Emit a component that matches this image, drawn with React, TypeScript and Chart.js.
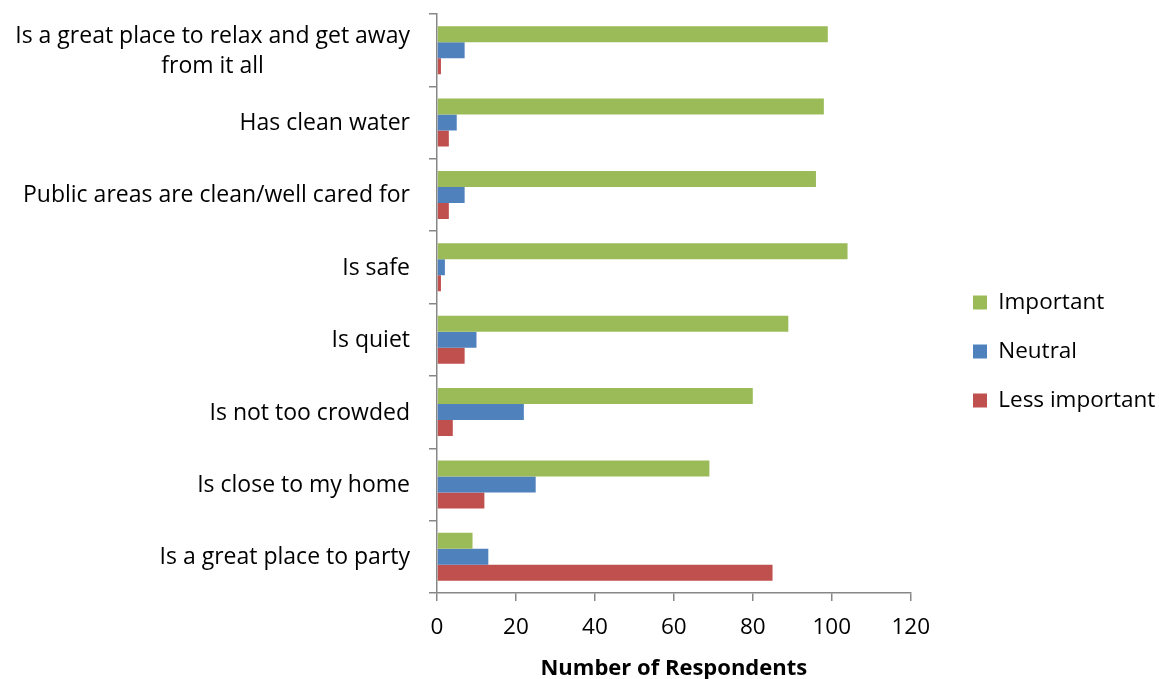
import React, { useEffect, useRef } from 'react';
import { Chart, registerables } from 'chart.js';

Chart.register(...registerables);

// Survey statements, top to bottom
const categories: (string | string[])[] = [
  ['Is a great place to relax and get away', 'from it all'],
  'Has clean water',
  'Public areas are clean/well cared for',
  'Is safe',
  'Is quiet',
  'Is not too crowded',
  'Is close to my home',
  'Is a great place to party',
];

const important = [99, 98, 96, 104, 89, 80, 69, 9];
const neutral = [7, 5, 7, 2, 10, 22, 25, 13];
const lessImportant = [1, 3, 3, 1, 7, 4, 12, 85];

const xMin = 0;
const xMax = 120;
const xStep = 20;

const FONT = '"Open Sans", "Noto Sans", sans-serif';
const AXIS_COLOR = '#878787';
const W = 1159;
const H = 679;
const PLOT_LEFT = 437;
const PLOT_RIGHT = 910.7;
const PLOT_TOP = 14;
const PLOT_BOTTOM = 593;
const LEGEND_X = 973;
const LEGEND_PAD = 26.5;
const LEGEND_FONT_SIZE = 22.5;
const TICK_FONT_SIZE = 22.5;
const LABEL_FONT_SIZE = 23;
const LABEL_LINE_H = 30;
const LABEL_GAP = 27;

// Category labels: block right-aligned against the axis, lines centred within the block
const categoryLabels = {
  id: 'categoryLabels',
  afterDraw(chart: any) {
    const scale = chart.scales.y;
    const ctx: CanvasRenderingContext2D = chart.ctx;
    const labels = chart.data.labels as (string | string[])[];
    ctx.save();
    ctx.font = `${LABEL_FONT_SIZE}px ${FONT}`;
    ctx.fillStyle = '#000000';
    ctx.textBaseline = 'middle';
    ctx.textAlign = 'center';
    const right = scale.right - LABEL_GAP;
    labels.forEach((label, i) => {
      const lines = Array.isArray(label) ? label : [label];
      const blockW = Math.max(...lines.map((l) => ctx.measureText(l).width));
      const cx = right - blockW / 2;
      const cy = scale.getPixelForTick(i) + 1;
      lines.forEach((line, j) => {
        ctx.fillText(line, cx, cy + (j - (lines.length - 1) / 2) * LABEL_LINE_H);
      });
    });
    ctx.restore();
  },
};

export default function App() {
  const canvasRef = useRef<HTMLCanvasElement | null>(null);

  useEffect(() => {
    if (!canvasRef.current) return;
    const chart = new Chart(canvasRef.current, {
      type: 'bar',
      data: {
        labels: categories,
        datasets: [
          { label: 'Important', data: important, backgroundColor: '#9BBB59', borderWidth: 0, xAxisID: 'x', yAxisID: 'y' },
          { label: 'Neutral', data: neutral, backgroundColor: '#4F81BD', borderWidth: 0, xAxisID: 'x', yAxisID: 'y' },
          { label: 'Less important', data: lessImportant, backgroundColor: '#C0504D', borderWidth: 0, xAxisID: 'x', yAxisID: 'y' },
        ],
      },
      options: {
        indexAxis: 'y',
        responsive: false,
        animation: false,
        devicePixelRatio: 1,
        events: [],
        layout: { padding: { top: PLOT_TOP, left: 0, right: 0, bottom: 0 } },
        datasets: {
          bar: { categoryPercentage: 0.664, barPercentage: 1 },
        },
        scales: {
          x: {
            type: 'linear',
            position: 'bottom',
            min: xMin,
            max: xMax,
            ticks: {
              stepSize: xStep,
              color: '#000000',
              padding: 13,
              font: { family: FONT, size: TICK_FONT_SIZE },
            },
            grid: {
              drawOnChartArea: false,
              drawTicks: true,
              tickLength: 8,
              color: AXIS_COLOR,
              lineWidth: 1.5,
            },
            border: { color: AXIS_COLOR, width: 1.5 },
            title: {
              display: true,
              text: 'Number of Respondents',
              color: '#000000',
              padding: 0,
              font: { family: FONT, size: 22, weight: 'bold', lineHeight: 0.9 },
            },
            afterFit: (s: any) => {
              s.height = H - PLOT_BOTTOM;
            },
          },
          y: {
            type: 'category',
            position: 'left',
            offset: true,
            ticks: { display: false },
            grid: {
              offset: true,
              drawOnChartArea: false,
              drawTicks: true,
              tickLength: 8,
              color: AXIS_COLOR,
              lineWidth: 1.5,
            },
            border: { color: AXIS_COLOR, width: 1.5 },
            afterFit: (s: any) => {
              s.width = PLOT_LEFT;
            },
          },
          legendGap: {
            type: 'linear',
            position: 'right',
            display: true,
            grid: { display: false },
            border: { display: false },
            ticks: { display: false },
            afterFit: (s: any) => {
              s.width = LEGEND_X - LEGEND_PAD - PLOT_RIGHT;
            },
          },
        },
        plugins: {
          tooltip: { enabled: false },
          legend: {
            display: true,
            position: 'right',
            maxWidth: W - LEGEND_X + LEGEND_PAD,
            title: { display: true, text: '', padding: 0, font: { size: 10, lineHeight: 1 } },
            labels: {
              boxWidth: 14,
              boxHeight: 14,
              padding: LEGEND_PAD,
              color: '#000000',
              font: { family: FONT, size: LEGEND_FONT_SIZE },
            },
          },
        },
      },
      plugins: [categoryLabels],
    } as any);
    return () => chart.destroy();
  }, []);

  return (
    <div style={{ position: 'absolute', left: 0, top: 0, width: W, height: H, background: '#ffffff' }}>
      <canvas ref={canvasRef} width={W} height={H} style={{ display: 'block', width: W, height: H }} />
    </div>
  );
}
